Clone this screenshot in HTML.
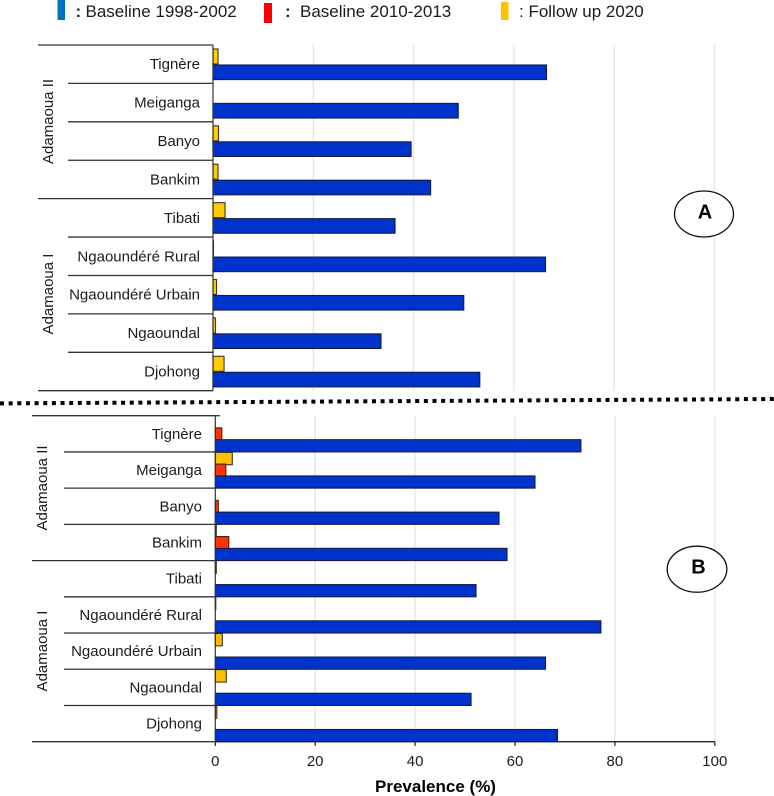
<!DOCTYPE html>
<html lang="en">
<head>
<meta charset="utf-8">
<title>Prevalence by health district</title>
<style>
html,body{margin:0;padding:0;background:#fff;width:774px;height:796px;overflow:hidden}
svg{display:block}
text{font-family:"Liberation Sans",sans-serif;fill:#1c1c1c}
</style>
</head>
<body>
<svg id="chart" width="774" height="796" viewBox="0 0 774 796" xmlns="http://www.w3.org/2000/svg">
  <g>
    <rect x="57.5" y="0" width="7.5" height="20" fill="#0070c0"/>
    <text x="75.5" y="17" font-size="17" font-weight="bold">:</text>
    <text x="85.5" y="17" font-size="17">Baseline 1998-2002</text>
    <rect x="264" y="3" width="8" height="20" fill="#ff0000"/>
    <text x="285" y="17" font-size="17" font-weight="bold">:</text>
    <text x="300" y="17" font-size="17">Baseline 2010-2013</text>
    <rect x="501" y="2" width="7.5" height="18" fill="#ffc000"/>
    <text x="519" y="17" font-size="17">: Follow up 2020</text>
  </g>
  <line x1="0" y1="403.4" x2="774" y2="399" stroke="#000" stroke-width="4" stroke-dasharray="4 4.65"/>
  <g id="plot"></g>
  <g>
    <ellipse cx="704" cy="214" rx="29.5" ry="23" fill="#fff" stroke="#111" stroke-width="1.3"/>
    <text x="705" y="218.5" font-size="20" font-weight="bold" text-anchor="middle" style="fill:#000">A</text>
  </g>
  <g>
    <ellipse cx="697" cy="569.2" rx="29.8" ry="23" fill="#fff" stroke="#111" stroke-width="1.3"/>
    <text x="698.5" y="573.5" font-size="20" font-weight="bold" text-anchor="middle" style="fill:#000">B</text>
  </g>
  <text x="435.5" y="792" font-size="17" font-weight="bold" text-anchor="middle" style="fill:#000">Prevalence (%)</text>
</svg>
<script>
const districts = ["Tignère", "Meiganga", "Banyo", "Bankim", "Tibati", "Ngaoundéré Rural", "Ngaoundéré Urbain", "Ngaoundal", "Djohong"];
const tickLabels = [0, 20, 40, 60, 80, 100];
const groupNames = ["Adamaoua II", "Adamaoua I"];
const groupSizes = [4, 5];

const panelABaseline1998 = [66.5, 48.9, 39.5, 43.4, 36.3, 66.3, 50, 33.5, 53.2];
const panelAFollowUp2020 = [1.0, 0, 1.1, 1.0, 2.4, 0.1, 0.7, 0.5, 2.2];

const panelBBaseline1998 = [73.2, 64, 56.8, 58.4, 52.2, 77.2, 66.1, 51.2, 68.5];
const panelBBaseline2010 = [1.3, 2.1, 0.6, 2.7, 0, 0, 0, 0, 0];
const panelBFollowUp2020 = [0, 3.4, 0, 0.2, 0.2, 0.1, 1.4, 2.2, 0.3];

const NS = "http://www.w3.org/2000/svg";
const plot = document.getElementById("plot");

function make(tag, attrs, parent, text) {
  const el = document.createElementNS(NS, tag);
  for (const k in attrs) el.setAttribute(k, attrs[k]);
  if (text !== undefined) el.textContent = text;
  parent.appendChild(el);
  return el;
}

function slug(s) {
  return s.toLowerCase().normalize("NFD").replace(/[\u0300-\u036f]/g, "").replace(/\s+/g, "-");
}

function drawPanel(cfg) {
  const x = v => cfg.x0 + v * cfg.pxPerUnit;
  const rowH = (cfg.bottom - cfg.top) / districts.length;
  const y = i => cfg.top + i * rowH;

  const g = make("g", {}, plot);
  
  

  tickLabels.forEach(t => {
    if (t === 0) return;
    const grid = make("line", {x1: x(t), x2: x(t), y1: cfg.top, y2: cfg.bottom, stroke: "#e3e6f0", "stroke-width": 1.4}, g);
    
    
  });

  districts.forEach((d, i) => {
    const label = make("text", {x: cfg.labelX, y: y(i) + rowH / 2 + 5, "font-size": 15, "text-anchor": "end"}, g, d);
    
    
  });

  let boundary = 0;
  const majors = [0];
  groupSizes.forEach(n => { boundary += n; majors.push(boundary); });
  for (let i = 0; i <= districts.length; i++) {
    const major = majors.includes(i);
    const rule = make("line", {x1: major ? cfg.majorLeft : cfg.minorLeft, x2: cfg.x0, y1: y(i), y2: y(i), stroke: "#333", "stroke-width": 1.3}, g);
    
    
  }

  let start = 0;
  groupNames.forEach((name, k) => {
    const cy = cfg.groupCenters[k];
    const t = make("text", {x: 0, y: 0, "font-size": 15, "text-anchor": "middle", transform: "translate(" + cfg.groupX + " " + cy + ") rotate(-90)"}, g, name);
    
    
    start += groupSizes[k];
  });

  cfg.series.forEach(s => {
    s.values.forEach((v, i) => {
      if (v <= 0) return;
      const r = make("rect", {x: x(0), y: y(i) + s.offset, width: v * cfg.pxPerUnit, height: s.height, fill: s.fill, stroke: s.stroke, "stroke-width": 1.1}, g);
      
      
    });
  });

  const axis = make("line", {x1: cfg.x0, x2: cfg.x0, y1: cfg.top, y2: cfg.bottom, stroke: "#333", "stroke-width": 1.2}, g);
  
  
}

drawPanel({
  name: "panel-a",
  x0: 213, pxPerUnit: 5.015, top: 45, bottom: 390.7,
  labelX: 200, majorLeft: 38, minorLeft: 68,
  groupX: 53, groupCenters: [121.5, 294],
  series: [
    {key: "follow-up-2020", values: panelAFollowUp2020, offset: 4, height: 15, fill: "#ffcc00", stroke: "#3a3520"},
    {key: "baseline-1998-2002", values: panelABaseline1998, offset: 20, height: 14.6, fill: "#0033cc", stroke: "#141c4a"}
  ]
});

drawPanel({
  name: "panel-b",
  x0: 215.3, pxPerUnit: 4.995, top: 415.7, bottom: 741.7,
  labelX: 202, majorLeft: 32, minorLeft: 64,
  groupX: 47, groupCenters: [488, 651],
  series: [
    {key: "follow-up-2020", values: panelBFollowUp2020, offset: 0.4, height: 12.4, fill: "#ffc000", stroke: "#3a3520"},
    {key: "baseline-2010-2013", values: panelBBaseline2010, offset: 12.2, height: 12.4, fill: "#ff3300", stroke: "#4a1a10"},
    {key: "baseline-1998-2002", values: panelBBaseline1998, offset: 24, height: 12.2, fill: "#0033cc", stroke: "#141c4a"}
  ]
});

const xAxisX = v => 215.3 + v * 4.995;
const xAxis = make("g", {}, plot);


const topStub = make("line", {x1: 215.3, x2: 220, y1: 415.7, y2: 415.7, stroke: "#333", "stroke-width": 1.3}, xAxis);


const xBase = make("line", {x1: xAxisX(0), x2: xAxisX(100), y1: 741.7, y2: 741.7, stroke: "#222", "stroke-width": 1.3}, xAxis);


tickLabels.forEach(t => {
  const tick = make("line", {x1: xAxisX(t), x2: xAxisX(t), y1: 741.7, y2: 746, stroke: "#222", "stroke-width": 1.2}, xAxis);
  
  
  const lab = make("text", {x: xAxisX(t), y: 766, "font-size": 15, "text-anchor": "middle"}, xAxis, t);
  
  
});
</script>
</body>
</html>
